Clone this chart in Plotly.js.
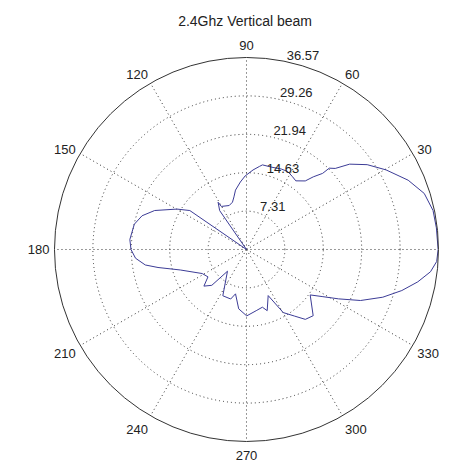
<!DOCTYPE html>
<html>
<head>
<meta charset="utf-8">
<script src="https://cdn.plot.ly/plotly-3.0.1.min.js"></script>
<style>html,body{margin:0;padding:0;background:#fff;}#chart{width:465px;height:464px;}</style>
</head>
<body>
<div id="chart"></div>
<script>
// Angle (degrees) of each sample
var angles = [0, 6.5, 11.8, 17.5, 23.2, 29.7, 35.1, 39.6, 42.4, 44.5, 45.0, 47.4, 49.4, 54.3, 57.7, 62.1, 66.6, 72.8, 79.3, 81.2, 85.3, 91.1, 95.2, 100.5, 103.4, 106.5, 111.5, 120.3, 121.0, 124.6, 135, 145.5, 149.8, 157.0, 162.1, 167.3, 175.1, 180, 184.5, 188.7, 191.5, 197.2, 208.5, 215.4, 220.7, 225.9, 228.8, 242.9, 252.3, 256.1, 262.5, 270.2, 279.0, 285.4, 288.7, 295.2, 300.2, 305.7, 310.1, 315.2, 324.5, 328.3, 331.8, 335.9, 340.7, 345.2, 349.3, 353.1, 356.4, 360];
// Gain magnitude at each angle
var gain = [36.5, 36.4, 36.3, 35.5, 33.5, 30.6, 28.1, 25.5, 22.9, 22.1, 20.5, 18.8, 17.2, 16.1, 16.4, 16.8, 16.7, 16.4, 16.4, 16.0, 15.2, 14.0, 12.9, 11.5, 10.3, 9.4, 9.0, 9.5, 10.5, 9.0, 0, 13.1, 15.3, 19.0, 20.9, 21.9, 22.3, 22.0, 21.2, 19.5, 17.2, 13.2, 9.6, 9.0, 10.7, 9.5, 5.5, 9.9, 9.9, 8.7, 11.4, 12.65, 11.8, 11.4, 12.3, 9.7, 13.9, 15.6, 17.4, 17.9, 14.9, 17.1, 19.9, 23.8, 27.5, 30.6, 33.2, 35.3, 36.3, 36.5];
// Radial ticks
var radialTicks = [7.31, 14.63, 21.94, 29.26, 36.57];
var radialLabels = ["7.31", "14.63", "21.94", "29.26", "36.57"];
// Angular ticks
var angleTicks = [0, 30, 60, 90, 120, 150, 180, 210, 240, 270, 300, 330];
var angleLabels = ["", "30", "60", "90", "120", "150", "180", "210", "240", "270", "300", "330"];

var font = {family: "Liberation Sans, Arial, sans-serif", size: 13, color: "#222"};

var trace = {
  type: "scatterpolar",
  mode: "lines",
  theta: angles,
  r: gain,
  line: {color: "#3c3c96", width: 1},
  hoverinfo: "skip"
};

var layout = {
  width: 465, height: 464,
  margin: {l: 0, r: 0, t: 0, b: 0},
  paper_bgcolor: "#fff",
  showlegend: false,
  title: {text: "2.4Ghz Vertical beam", x: 0.527, xanchor: "center", y: 1 - 21/464, yanchor: "middle",
          font: {family: font.family, size: 14, color: "#222"}},
  polar: {
    domain: {x: [0.1172, 0.943], y: [0.0485, 0.8761]},
    bgcolor: "#fff",
    angularaxis: {
      rotation: 0, direction: "counterclockwise",
      tickmode: "array", tickvals: angleTicks, ticktext: angleLabels,
      showline: true, linecolor: "#333", linewidth: 1,
      showgrid: true, gridcolor: "#333", gridwidth: 1, griddash: "1px,3px",
      ticks: "outside", ticklen: 2, tickcolor: "rgba(0,0,0,0)",
      tickfont: font
    },
    radialaxis: {
      range: [0, 36.57], tickmode: "array", tickvals: radialTicks,
      ticktext: radialLabels.map(function (s) { return s + "<br> "; }),
      angle: 80, side: "clockwise", tickangle: 80,
      showline: false, ticks: "",
      showgrid: true, gridcolor: "#333", gridwidth: 1, griddash: "1px,3px",
      tickfont: font
    }
  }
};

Plotly.newPlot("chart", [trace], layout, {staticPlot: true, displayModeBar: false});
</script>
</body>
</html>
